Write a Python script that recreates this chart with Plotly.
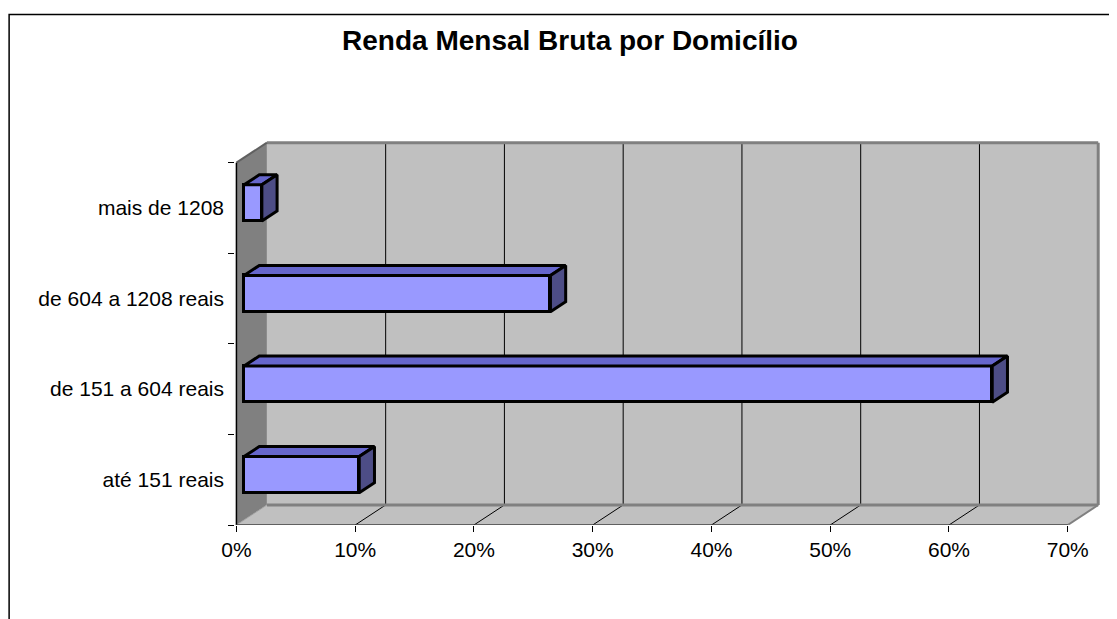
import plotly.graph_objects as go

# ---- data ----
categories = ["até 151 reais", "de 151 a 604 reais", "de 604 a 1208 reais", "mais de 1208"]
values = [9.7, 63.0, 25.8, 1.5]          # percent
x_ticks = [0, 10, 20, 30, 40, 50, 60, 70]
x_tick_labels = ["0%", "10%", "20%", "30%", "40%", "50%", "60%", "70%"]
title_text = "Renda Mensal Bruta por Domicílio"

# ---- geometry (pseudo-3D) ----
W, H = 1117, 619
OFF = 8                # page body margin
PX_PER_X = 11.886      # px per percent
PX_PER_Y = 90.5        # px per category
DX = 30.5 / PX_PER_X   # depth offset in x units
DY = 20.0 / PX_PER_Y   # depth offset in y units
XMAX = 70
F1, F2 = 0.25, 0.75    # bar front/back depth fractions
BH = 0.4               # bar thickness (category units)

x_lo, x_hi = -0.12, 72.8
y_lo, y_hi = -0.5, 3.75
plot_left = 236 - OFF + x_lo * PX_PER_X
plot_w = (x_hi - x_lo) * PX_PER_X
plot_bottom = 525 - OFF
plot_h = (y_hi - y_lo) * PX_PER_Y
plot_top = plot_bottom - plot_h

FONT = "Liberation Sans, Arial, sans-serif"
FRONT = "#9999FF"
TOP = "#6666CC"
SIDE = "#4D4D86"

fig = go.Figure()

shapes = []
def poly(pts, fill, line_color=None, lw=0):
    d = "M " + " L ".join(f"{x},{y}" for x, y in pts) + " Z"
    return dict(type="path", path=d, xref="x", yref="y", fillcolor=fill,
                line=dict(color=line_color or fill, width=lw), layer="below")

y0, y1 = -0.5, 3.5
# back wall
shapes.append(poly([(DX, y0 + DY), (XMAX + DX, y0 + DY), (XMAX + DX, y1 + DY), (DX, y1 + DY)], "#C0C0C0"))
# left wall
shapes.append(poly([(0, y0), (DX, y0 + DY), (DX, y1 + DY), (0, y1)], "#808080"))
# floor
shapes.append(poly([(0, y0), (XMAX, y0), (XMAX + DX, y0 + DY), (DX, y0 + DY)], "#C0C0C0"))

def seg(xa, ya, xb, yb, color, w):
    return dict(type="line", xref="x", yref="y", x0=xa, y0=ya, x1=xb, y1=yb,
                line=dict(color=color, width=w), layer="below")

# gridlines on back wall and floor
for t in x_ticks[1:-1]:
    shapes.append(seg(t + DX, y0 + DY, t + DX, y1 + DY, "#000000", 1))
    shapes.append(seg(t, y0, t + DX, y0 + DY, "#000000", 1))
# gray edges
shapes.append(seg(DX, y1 + DY, XMAX + DX, y1 + DY, "#808080", 3))
shapes.append(seg(XMAX + DX, y0 + DY, XMAX + DX, y1 + DY, "#808080", 3))
shapes.append(seg(DX, y0 + DY, XMAX + DX, y0 + DY, "#808080", 3))
shapes.append(seg(XMAX, y0, XMAX + DX, y0 + DY, "#808080", 2))
shapes.append(seg(0, y1, DX, y1 + DY, "#606060", 2))
shapes.append(seg(0, y0, DX, y0 + DY, "#A0A0A0", 1))
# axis lines (front edges)
shapes.append(seg(0, y0, 0, y1, "#000000", 1.5))
shapes.append(seg(0, y0, XMAX, y0, "#404040", 1.5))

# outer chart border (paper coordinates)
def px_to_paper_x(px):
    return (px - OFF - plot_left) / plot_w
def px_to_paper_y(py):
    return (plot_bottom - (py - OFF)) / plot_h
shapes.append(dict(type="rect", xref="paper", yref="paper",
                   x0=px_to_paper_x(8.5), x1=px_to_paper_x(W + 30),
                   y0=px_to_paper_y(H + 30), y1=px_to_paper_y(15),
                   line=dict(color="#000000", width=1.5), fillcolor="rgba(0,0,0,0)"))

ypos = list(range(len(categories)))

# front faces of bars
fig.add_trace(go.Bar(
    orientation="h",
    y=[c + F1 * DY for c in ypos],
    x=values,
    base=[F1 * DX] * len(values),
    width=BH,
    marker=dict(color=FRONT, line=dict(color="#000000", width=3)),
    hoverinfo="skip", showlegend=False,
))

# top and side faces
for c, v in zip(ypos, values):
    ybot1 = c - BH / 2 + F1 * DY
    ytop1 = c + BH / 2 + F1 * DY
    ybot2 = c - BH / 2 + F2 * DY
    ytop2 = c + BH / 2 + F2 * DY
    xa1 = F1 * DX
    xa2 = F2 * DX
    xe1 = v + F1 * DX
    xe2 = v + F2 * DX
    fig.add_trace(go.Scatter(
        x=[xa1, xa2, xe2, xe1, xa1], y=[ytop1, ytop2, ytop2, ytop1, ytop1],
        mode="lines", fill="toself", fillcolor=TOP,
        line=dict(color="#000000", width=3), hoverinfo="skip", showlegend=False))
    fig.add_trace(go.Scatter(
        x=[xe1, xe2, xe2, xe1, xe1], y=[ytop1, ytop2, ybot2, ybot1, ytop1],
        mode="lines", fill="toself", fillcolor=SIDE,
        line=dict(color="#000000", width=3), hoverinfo="skip", showlegend=False))

fig.update_layout(
    width=W, height=H,
    margin=dict(l=plot_left, r=W - plot_left - plot_w, t=plot_top, b=H - plot_bottom, pad=0),
    paper_bgcolor="#FFFFFF", plot_bgcolor="rgba(0,0,0,0)",
    font=dict(family=FONT, size=21, color="#000000"),
    title=dict(text=f"<b>{title_text}</b>", x=(570 - OFF) / W, xanchor="center",
               y=1 - (40 - OFF) / H, yanchor="middle", yref="container",
               font=dict(family=FONT, size=28, color="#000000")),
    shapes=shapes,
    showlegend=False,
    bargap=0,
)
fig.update_xaxes(range=[x_lo, x_hi], tickvals=x_ticks, ticktext=x_tick_labels,
                 ticks="outside", ticklen=6, tickwidth=1, tickcolor="#000000",
                 showgrid=False, zeroline=False, showline=False, fixedrange=True,
                 tickfont=dict(family=FONT, size=21))
fig.update_yaxes(range=[y_lo, y_hi], tickvals=ypos, ticktext=categories,
                 ticks="", showgrid=False, zeroline=False, showline=False, fixedrange=True,
                 ticklabelstandoff=10,
                 minor=dict(tickvals=[-0.5, 0.5, 1.5, 2.5, 3.5], ticks="outside",
                            ticklen=6, tickwidth=1, tickcolor="#000000"),
                 tickfont=dict(family=FONT, size=21))

fig.write_html("out.html", config={"displayModeBar": False})
